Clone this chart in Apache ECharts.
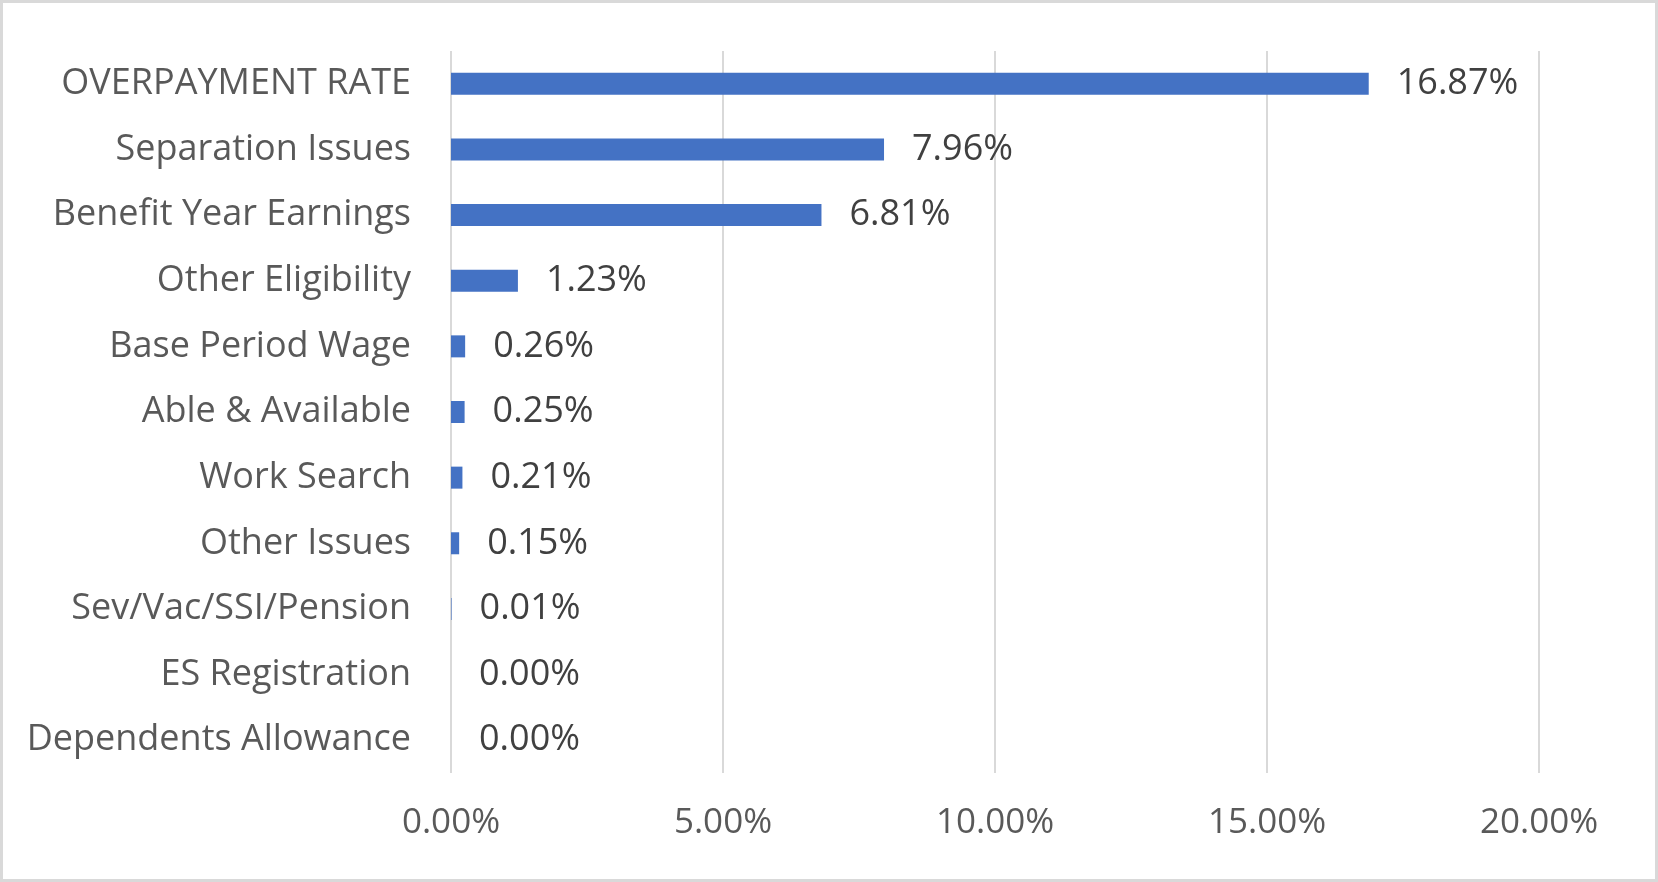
<!DOCTYPE html>
<html>
<head>
<meta charset="utf-8">
<script src="https://cdn.jsdelivr.net/npm/echarts@6/dist/echarts.min.js"></script>
<style>
html,body{margin:0;padding:0;background:#fff;}
#wrap{position:absolute;left:0;top:0;width:1652px;height:876px;border:3px solid #D9D9D9;}
#chart{width:1652px;height:876px;}
</style>
</head>
<body>
<div id="wrap"><div id="chart"></div></div>
<script>
const categories = ["OVERPAYMENT RATE","Separation Issues","Benefit Year Earnings","Other Eligibility","Base Period Wage","Able & Available","Work Search","Other Issues","Sev/Vac/SSI/Pension","ES Registration","Dependents Allowance"];
const values = [16.87, 7.96, 6.81, 1.23, 0.26, 0.25, 0.21, 0.15, 0.01, 0.00, 0.00];
const xTicks = [0, 5, 10, 15, 20];

const FONT = '"Open Sans"';
const chart = echarts.init(document.getElementById('chart'), null, {renderer:'canvas'});
chart.setOption({
  animation:false,
  grid:{left:448, right:1652-1536, top:48, bottom:876-770, containLabel:false},
  xAxis:{
    type:'value', min:xTicks[0], max:xTicks[xTicks.length-1], interval:5,
    axisLine:{show:false}, axisTick:{show:false},
    splitLine:{show:true, lineStyle:{color:'#D9D9D9', width:2}},
    axisLabel:{formatter:v=>v.toFixed(2)+'%', color:'#595959', fontFamily:FONT, fontSize:35, margin:33}
  },
  yAxis:{
    type:'category', data:categories, inverse:true,
    axisLine:{show:false}, axisTick:{show:false},
    axisLabel:{color:'#595959', fontFamily:FONT, fontSize:36, margin:40, padding:[4,0,0,0]}
  },
  series:[{
    type:'bar', data:values, barWidth:22,
    itemStyle:{color:'#4472C4'},
    label:{show:true, position:'right', distance:28, formatter:p=>p.value.toFixed(2)+'%', color:'#404040', fontFamily:FONT, fontSize:36, padding:[4,0,0,0]}
  }]
});
</script>
</body>
</html>
